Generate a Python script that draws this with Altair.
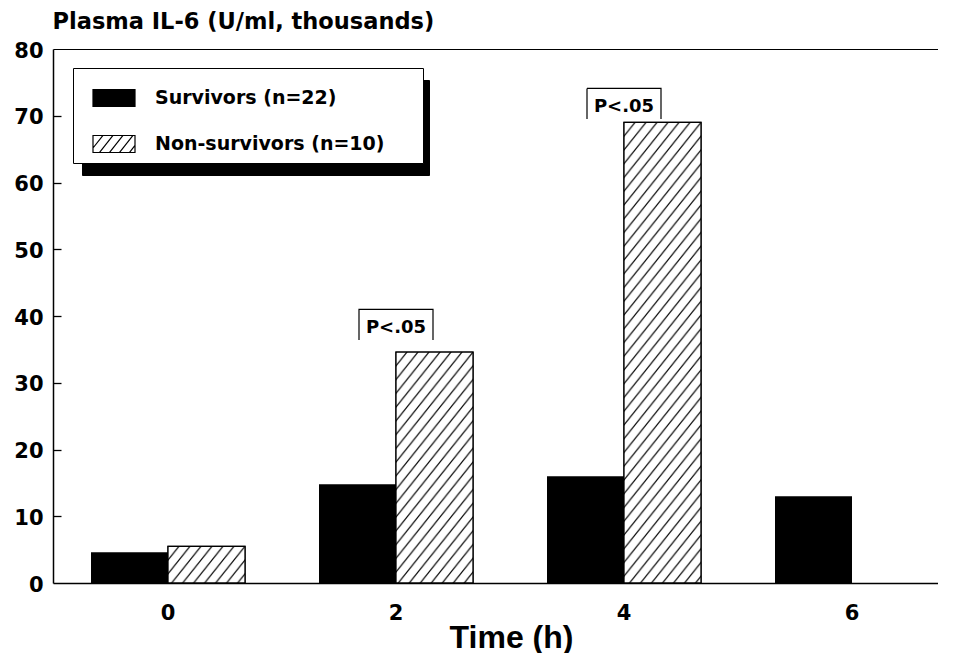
import urllib.parse
import altair as alt
import pandas as pd

# ---------------- data ----------------
times = ["0", "2", "4", "6"]
survivors = [4.6, 14.8, 16.0, 13.0]
non_survivors = [5.5, 34.6, 69.0, None]
groups = ["Survivors (n=22)", "Non-survivors (n=10)"]
p_times = ["2", "4"]
p_levels = [36.4, 69.5]
p_labels = ["P<.05", "P<.05"]
y_ticks = [0, 10, 20, 30, 40, 50, 60, 70, 80]

rows = []
for t, s, n in zip(times, survivors, non_survivors):
    rows.append({"time": t, "group": groups[0], "value": s})
    if n is not None:
        rows.append({"time": t, "group": groups[1], "value": n})
bars = pd.DataFrame(rows)
surv_df = bars[bars["group"] == groups[0]]
non_df = bars[bars["group"] == groups[1]]
ann = pd.DataFrame({"time": p_times, "level": p_levels, "label": p_labels})
shadow_keys = ["shadow-a", "shadow-b"]   # keys of the legend-shadow box (labels hidden)
leg = pd.DataFrame({"shadow": shadow_keys})

# ---------------- layout / style ----------------
FONT = "DejaVu Sans"
PLOT_W, PLOT_H = 885, 534
PAD = {"left": 45, "top": 41, "right": 0, "bottom": 70}
X_RANGE = 914
BLANK = "\u2800"

# hatch pattern image for the non-survivor bars
HX, SLOPE = 11.0, 1.25
HY = HX * SLOPE
hatch_svg = (
    "<svg xmlns='http://www.w3.org/2000/svg' width='100%' height='100%'>"
    f"<defs><pattern id='h' patternUnits='userSpaceOnUse' width='{HX}' height='{HY}'>"
    f"<path d='M0,{HY} L{HX},0 M-2,{2*SLOPE} L2,{-2*SLOPE} "
    f"M{HX-2},{HY+2*SLOPE} L{HX+2},{HY-2*SLOPE}' stroke='black' stroke-width='1.1' fill='none'/>"
    "</pattern></defs><rect width='100%' height='100%' fill='white'/>"
    "<rect width='100%' height='100%' fill='url(#h)'/></svg>"
)
HATCH_URI = "data:image/svg+xml;charset=utf-8," + urllib.parse.quote(hatch_svg)


def hatch_symbol(w=21.0, h=8.5, step=10.0, slope=1.25):
    parts = [f"M-1,{-h / w:.4f}H1V{h / w:.4f}H-1Z"]
    dx = 2 * h / slope
    c = -w - dx
    while c < w:
        t0 = max(0.0, (-w - c) / dx)
        t1 = min(1.0, (w - c) / dx)
        if t1 - t0 > 1e-6:
            x0, y0 = c + dx * t0, h - 2 * h * t0
            x1, y1 = c + dx * t1, h - 2 * h * t1
            parts.append(f"M{x0 / w:.4f},{y0 / w:.4f}L{x1 / w:.4f},{y1 / w:.4f}")
        c += step
    return "".join(parts)


SYM = hatch_symbol()

xscale = alt.Scale(domain=times, range=[0, X_RANGE], paddingInner=0.3246, paddingOuter=0.1667)
yscale = alt.Scale(domain=[0, 80], nice=False, zero=True)
offscale = alt.Scale(domain=groups, paddingInner=0, paddingOuter=0)

legend_common = dict(
    orient="none", title=None, padding=8, rowPadding=13,
    symbolSize=1764, symbolStrokeWidth=1.2, symbolStrokeColor="black",
    symbolOffset=11, labelLimit=500,
    labelFont=FONT, labelFontSize=19, labelFontWeight="bold", labelColor="black",
)

# shadow box behind the legend (a second legend with hidden labels, drawn first)
shadow = alt.Chart(leg).mark_point(opacity=0, size=1764, strokeWidth=1.2, color="black").encode(
    shape=alt.Shape("shadow:N", scale=alt.Scale(domain=shadow_keys, range=[SYM, SYM]),
                    legend=alt.Legend(legendX=29, legendY=31, fillColor="black", strokeColor="black",
                                      symbolFillColor="black", symbolType=SYM,
                                      labelExpr="''", labelOffset=276,
                                      **legend_common))
)

color_enc = alt.Color("group:N", scale=alt.Scale(domain=groups, range=["black", "white"]),
                      legend=alt.Legend(legendX=20, legendY=19, fillColor="white", strokeColor="black",
                                        symbolType=SYM, labelOffset=19,
                                        labelExpr="datum.label + '" + BLANK * 2 + "'",
                                        **legend_common))

x_main = alt.X("time:N", sort=times, scale=xscale, axis=alt.Axis(
    orient="bottom", labelAngle=0, ticks=False, grid=False,
    domainColor="black", domainWidth=1.5,
    labelFont=FONT, labelFontSize=21, labelFontWeight="bold", labelColor="black", labelPadding=19,
    title="Time (h)", titleFont="Liberation Sans", titleFontSize=32, titleFontWeight="bold",
    titleColor="black", titleBaseline="alphabetic", titleX=458, titleY=64))
y_main = alt.Y("value:Q", scale=yscale, axis=alt.Axis(
    orient="left", values=y_ticks, ticks=False, grid=False,
    domainColor="black", domainWidth=1.5,
    labelFont=FONT, labelFontSize=21, labelFontWeight="bold", labelColor="black",
    labelPadding=10, labelOffset=2,
    title="Plasma IL-6 (U/ml, thousands)", titleAngle=0, titleAlign="left",
    titleBaseline="alphabetic", titleX=-1, titleY=-21,
    titleFont=FONT, titleFontSize=22.5, titleFontWeight="bold", titleColor="black"))

x_none = alt.X("time:N", sort=times, scale=xscale, axis=None)
y_none = alt.Y("value:Q", scale=yscale, axis=None)
xoff = alt.XOffset("group:N", scale=offscale)

surv_layer = alt.Chart(surv_df).mark_bar().encode(x=x_main, xOffset=xoff, y=y_main, color=color_enc)

non_white = alt.Chart(non_df).mark_bar(stroke="black", strokeWidth=1.3).encode(
    x=x_none, xOffset=xoff, y=y_none, color=color_enc)

non_hatch = alt.Chart(non_df).mark_image(aspect=False).encode(
    x=x_none, xOffset=xoff, y=y_none, y2=alt.datum(0), url=alt.value(HATCH_URI))

x_top = alt.X("time:N", sort=times, scale=xscale, axis=alt.Axis(
    orient="top", labels=False, ticks=False, domain=True, domainColor="black",
    domainWidth=1.2, title=None, grid=False))
y_in = alt.Y("value:Q", scale=yscale, axis=alt.Axis(
    orient="right", offset=-PLOT_W, values=y_ticks[1:-1], labels=False, domain=False,
    ticks=True, tickSize=8, tickColor="black", tickWidth=1.3, title=None, grid=False))

non_outline = alt.Chart(non_df).mark_bar(fillOpacity=0, stroke="black", strokeWidth=1.3).encode(
    x=x_top, xOffset=xoff, y=y_in)

BOX_W, BOX_UNITS = 74, 4.6
box_h = BOX_UNITS * PLOT_H / 80.0
p_box = alt.Chart(ann).transform_calculate(top=f"datum.level + {BOX_UNITS}").mark_bar(
    width=BOX_W, fillOpacity=0, stroke="black", strokeWidth=1.2,
    strokeDash=[BOX_W + box_h, BOX_W, box_h, 0]).encode(
    x=alt.X("time:N", sort=times, scale=xscale, axis=None),
    y=alt.Y("top:Q", scale=yscale, axis=None),
    y2="level:Q")

p_text = alt.Chart(ann).mark_text(font=FONT, fontSize=18, fontWeight="bold", color="black",
                                  baseline="alphabetic", dy=-7).encode(
    x=alt.X("time:N", sort=times, scale=xscale, axis=None),
    y=alt.Y("level:Q", scale=yscale, axis=None),
    text="label:N")

chart = alt.layer(shadow, surv_layer, non_white, non_hatch, non_outline, p_box, p_text).resolve_scale(
    x="shared", y="shared").resolve_axis(x="independent", y="independent").properties(
    width=PLOT_W, height=PLOT_H, padding=PAD, autosize=alt.AutoSizeParams(type="none"),
    background="white").configure_view(stroke=None)

chart.save("out.html", embed_options={"renderer": "svg", "actions": False})
